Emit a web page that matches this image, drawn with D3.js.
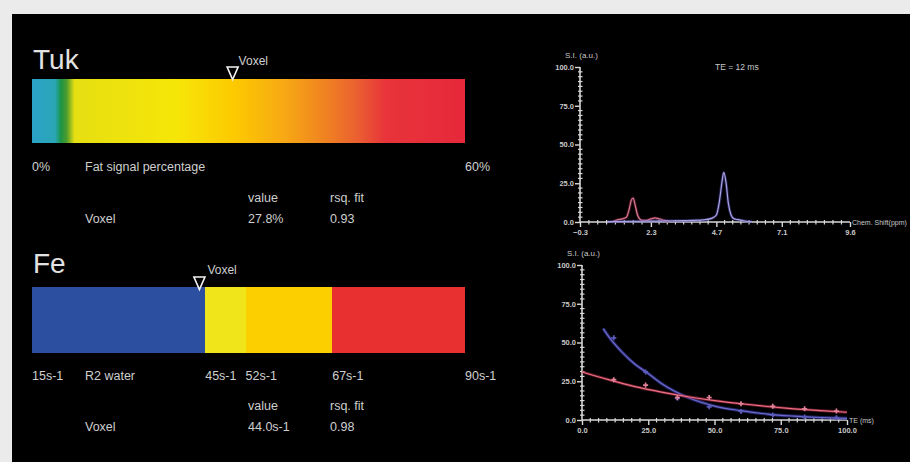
<!DOCTYPE html>
<html><head><meta charset="utf-8">
<script src="https://cdn.jsdelivr.net/npm/d3@7"></script>
<style>
html,body{margin:0;padding:0;background:#ebebeb;}
svg{display:block;}
</style></head>
<body>
<script>
// ---------- DATA ----------
// Fat fraction colour bar (Tuk)
const tukDomain = [0, 60];
const tukStops = [[0,"#2aa2c8"],[3.2,"#2aa6b6"],[4.0,"#1b9446"],[4.8,"#4c9c2c"],[5.9,"#e6df12"],[20,"#f6e608"],[28,"#fcca00"],[35,"#f7a814"],[41,"#ef8022"],[45,"#ea6030"],[49,"#e8343a"],[60,"#e6283a"]];
const tukTickValues = [0, 60];
const tukTickLabels = ["0%", "60%"];
const tukVoxel = 27.8;
const tukRow = {label:"Voxel", value:"27.8%", rsq:"0.93"};

// Iron colour bar (Fe)
const feBreaks = [15, 45, 52, 67, 90];
const feColors = ["#2d4fa0", "#f0e41a", "#fcd000", "#e83030"];
const feTickLabels = ["15s-1", "45s-1", "52s-1", "67s-1", "90s-1"];
const feVoxel = 44.0;
const feRow = {label:"Voxel", value:"44.0s-1", rsq:"0.98"};

// Spectrum (TE = 12 ms)
const specXTicks = [-0.3, 2.3, 4.7, 7.1, 9.6];
const specYTicks = [0, 25, 50, 75, 100];
const fatPpm = [0.9, 1.1, 1.25, 1.4, 1.5, 1.58, 1.65, 1.72, 1.82, 1.95, 2.1, 2.3, 2.45, 2.6, 2.8, 2.95];
const fatSI  = [0.3, 1.5, 2.0, 3.0, 8.0, 14, 15.5, 11, 4.0, 1.2, 1.0, 2.0, 2.6, 2.0, 1.0, 0.3];
const waterPpm = [0.7, 1.9, 2.5, 3.2, 3.8, 4.3, 4.55, 4.7, 4.8, 4.9, 4.97, 5.05, 5.14, 5.24, 5.35, 5.5, 5.65, 5.8, 6.0];
const waterSI  = [0.2, 0.5, 0.6, 0.8, 1.0, 1.5, 2.5, 4.5, 12, 25, 32, 26, 12, 4.5, 2.0, 1.5, 1.0, 0.5, 0.3];

// Decay curves
const decayXTicks = [0, 25, 50, 75, 100];
const decayYTicks = [0, 25, 50, 75, 100];
const echoTE = [12, 24, 36, 48, 60, 72, 84, 96];
const fatEchoSI = [26, 22.5, 14.5, 14.5, 10.5, 8.8, 7.2, 5.8];
const waterEchoSI = [53, 31, 14, 8.5, 5.5, 3.2, 2.0, 1.5];
const fatFitTE = [0, 10, 20, 30, 40, 50, 60, 70, 80, 90, 100];
const fatFitSI = [31, 26, 21.5, 18, 15, 12.5, 10.5, 8.7, 7.2, 6.0, 5.0];
const waterFitTE = [8, 10, 15, 20, 25, 30, 35, 40, 50, 60, 70, 80, 90, 100];
const waterFitSI = [59, 54, 44, 36, 30, 23.5, 18.5, 14.5, 9.0, 6.0, 3.8, 2.5, 1.6, 1.0];

// ---------- DRAW ----------
const W = 910, H = 462;
const svg = d3.select("body").append("svg").attr("width", W).attr("height", H);
svg.append("rect").attr("x",0).attr("y",0).attr("width",W).attr("height",H).attr("fill","#ebebeb");
svg.append("rect").attr("x",12).attr("y",14).attr("width",W-12).attr("height",H-14).attr("fill","#000");

const leftFont = "'Liberation Sans', Arial, sans-serif";
const txtCol = "#cfcfcf";
const defs = svg.append("defs");

function txt(g, x, y, s, size, opts={}) {
  return g.append("text").attr("x", x).attr("y", y).text(s)
    .attr("font-family", opts.family || leftFont).attr("font-size", size)
    .attr("font-weight", opts.weight || "normal")
    .attr("text-anchor", opts.anchor || "start")
    .attr("fill", opts.fill || txtCol);
}

function marker(g, x, yTop) {
  g.append("path")
    .attr("d", `M${x-5.5},${yTop} L${x+5.5},${yTop} L${x},${yTop+12.5} Z`)
    .attr("fill", "none").attr("stroke", "#f4f4f4").attr("stroke-width", 1.6);
}

// --- Tuk panel ---
const tukX = d3.scaleLinear().domain(tukDomain).range([32, 465]);
const gT = svg.append("g");
txt(gT, 33, 69, "Tuk", 28, {fill:"#e2e2e2"});
const grad = defs.append("linearGradient").attr("id","tukGrad")
  .attr("gradientUnits","userSpaceOnUse")
  .attr("x1", tukX(tukDomain[0])).attr("x2", tukX(tukDomain[1])).attr("y1",0).attr("y2",0);
grad.selectAll("stop").data(tukStops).join("stop")
  .attr("offset", d => (tukX(d[0]) - tukX(tukDomain[0])) / (tukX(tukDomain[1]) - tukX(tukDomain[0])))
  .attr("stop-color", d => d[1]);
gT.append("rect").attr("x", tukX(tukDomain[0])).attr("y", 79)
  .attr("width", tukX(tukDomain[1]) - tukX(tukDomain[0])).attr("height", 64)
  .attr("fill", "url(#tukGrad)");
marker(gT, tukX(tukVoxel), 67);
txt(gT, tukX(tukVoxel) + 6, 65, "Voxel", 12);
tukTickValues.forEach((v, i) => txt(gT, tukX(v), 171, tukTickLabels[i], 12.5));
txt(gT, 85, 171, "Fat signal percentage", 12.5);
txt(gT, 248, 202, "value", 12.5);
txt(gT, 330, 202, "rsq. fit", 12.5);
txt(gT, 85, 223, tukRow.label, 12.5);
txt(gT, 248, 223, tukRow.value, 12.5);
txt(gT, 330, 223, tukRow.rsq, 12.5);

// --- Fe panel ---
const feX = d3.scaleLinear().domain([feBreaks[0], feBreaks[feBreaks.length-1]]).range([32, 465]);
const gF = svg.append("g");
txt(gF, 33, 273, "Fe", 28, {fill:"#e2e2e2"});
gF.selectAll("rect.seg").data(feColors).join("rect").attr("class","seg")
  .attr("x", (d,i) => feX(feBreaks[i])).attr("y", 287)
  .attr("width", (d,i) => feX(feBreaks[i+1]) - feX(feBreaks[i]) + (i < feColors.length - 1 ? 0.8 : 0))
  .attr("height", 66)
  .attr("fill", d => d).attr("shape-rendering", "crispEdges");
marker(gF, feX(feVoxel), 277);
txt(gF, feX(feVoxel) + 8, 274, "Voxel", 12);
feBreaks.forEach((v, i) => txt(gF, feX(v), 380, feTickLabels[i], 12.5));
txt(gF, 85, 380, "R2 water", 12.5);
txt(gF, 248, 410, "value", 12.5);
txt(gF, 330, 410, "rsq. fit", 12.5);
txt(gF, 85, 431, feRow.label, 12.5);
txt(gF, 248, 431, feRow.value, 12.5);
txt(gF, 330, 431, feRow.rsq, 12.5);

// --- small chart helper ---
const axCol = "#d8d8d8";
const tickFont = "'Liberation Sans', Arial, sans-serif";
function drawAxes(g, x, y, xTicks, yTicks, xLabel, yLabel) {
  const x0 = x.range()[0], x1 = x.range()[1];
  const y0 = y.range()[0], y1 = y.range()[1];
  const minorX = [], minorY = [];
  for (let i = 0; i < xTicks.length - 1; i++) {
    const a = x(xTicks[i]), b = x(xTicks[i+1]);
    for (let k = 1; k < 8; k++) minorX.push(a + (b - a) * k / 8);
  }
  for (let i = 0; i < yTicks.length - 1; i++) {
    const a = y(yTicks[i]), b = y(yTicks[i+1]);
    for (let k = 1; k < 8; k++) minorY.push(a + (b - a) * k / 8);
  }
  g.selectAll("line.mx").data(minorX).join("line").attr("class","mx")
    .attr("x1", d => d).attr("x2", d => d).attr("y1", y0 - 2).attr("y2", y0 + 2.5)
    .attr("stroke", axCol).attr("stroke-width", 1.2);
  g.selectAll("line.my").data(minorY).join("line").attr("class","my")
    .attr("y1", d => d).attr("y2", d => d).attr("x1", x0 - 2).attr("x2", x0 + 2.5)
    .attr("stroke", axCol).attr("stroke-width", 1.2);
  g.append("line").attr("x1", x0).attr("x2", x1).attr("y1", y0).attr("y2", y0)
    .attr("stroke", axCol).attr("stroke-width", 1.6);
  g.append("line").attr("x1", x0).attr("x2", x0).attr("y1", y0).attr("y2", y1)
    .attr("stroke", axCol).attr("stroke-width", 1.6);
  const yAx = d3.axisLeft(y).tickValues(yTicks).tickFormat(d3.format(".1f")).tickSize(5).tickPadding(1);
  const gy = g.append("g").attr("transform", `translate(${x0},0)`).call(yAx);
  const xAx = d3.axisBottom(x).tickValues(xTicks).tickFormat(d3.format(".1f")).tickSize(5).tickPadding(3);
  const gx = g.append("g").attr("transform", `translate(0,${y0})`).call(xAx);
  [gx, gy].forEach(ax => {
    ax.select(".domain").remove();
    ax.selectAll(".tick line").attr("stroke", axCol).attr("stroke-width", 1.4);
    ax.selectAll(".tick text").attr("fill", "#c8c8c8").attr("font-family", tickFont)
      .attr("font-size", 7.5).attr("font-weight", "bold");
  });
  txt(g, x0 - 15, y1 - 9, yLabel, 8, {family: tickFont, fill:"#c8c8c8"});
  txt(g, x1 + 2, y0 + 3, xLabel, 7, {family: tickFont, fill:"#c8c8c8"});
}

// --- Spectrum chart ---
const sx = d3.scaleLinear().domain([specXTicks[0], specXTicks[specXTicks.length-1]]).range([580, 850]);
const sy = d3.scaleLinear().domain([0, 100]).range([222, 67]);
const gS = svg.append("g");
drawAxes(gS, sx, sy, specXTicks, specYTicks, "Chem. Shift(ppm)", "S.I. (a.u.)");
txt(gS, 715, 70, "TE = 12 ms", 8.5, {family: tickFont, fill:"#c8c8c8"});
const specLine = d3.line().x(d => sx(d[0])).y(d => sy(d[1])).curve(d3.curveMonotoneX);
const waterPts = d3.zip(waterPpm, waterSI);
const fatPts = d3.zip(fatPpm, fatSI);
gS.append("path").attr("d", specLine(fatPts)).attr("fill","none")
  .attr("stroke","#8a2a44").attr("stroke-width",3).attr("stroke-opacity",0.5);
gS.append("path").attr("d", specLine(fatPts)).attr("fill","none")
  .attr("stroke","#d87890").attr("stroke-width",1.2);
gS.append("path").attr("d", specLine(waterPts)).attr("fill","none")
  .attr("stroke","#4a44a0").attr("stroke-width",3).attr("stroke-opacity",0.5);
gS.append("path").attr("d", specLine(waterPts)).attr("fill","none")
  .attr("stroke","#aaa4e4").attr("stroke-width",1.2);

// --- Decay chart ---
const dx = d3.scaleLinear().domain([0, 100]).range([582, 847]);
const dy = d3.scaleLinear().domain([0, 100]).range([420, 265]);
const gD = svg.append("g");
drawAxes(gD, dx, dy, decayXTicks, decayYTicks, "TE (ms)", "S.I. (a.u.)");
const decLine = d3.line().x(d => dx(d[0])).y(d => dy(d[1])).curve(d3.curveMonotoneX);
gD.append("path").attr("d", decLine(d3.zip(waterFitTE, waterFitSI))).attr("fill","none")
  .attr("stroke","#34349a").attr("stroke-width",3.2).attr("stroke-opacity",0.7);
gD.append("path").attr("d", decLine(d3.zip(waterFitTE, waterFitSI))).attr("fill","none")
  .attr("stroke","#6c6cc8").attr("stroke-width",1.2);
gD.append("path").attr("d", decLine(d3.zip(fatFitTE, fatFitSI))).attr("fill","none")
  .attr("stroke","#a82a4a").attr("stroke-width",2.8).attr("stroke-opacity",0.6);
gD.append("path").attr("d", decLine(d3.zip(fatFitTE, fatFitSI))).attr("fill","none")
  .attr("stroke","#e87080").attr("stroke-width",1.2);
const sym = d3.symbol().type(d3.symbolCross).size(14);
gD.selectAll("path.wm").data(d3.zip(echoTE, waterEchoSI)).join("path").attr("class","wm")
  .attr("transform", d => `translate(${dx(d[0])},${dy(d[1])})`).attr("d", sym)
  .attr("fill", "#5a5ab8");
gD.selectAll("path.fm").data(d3.zip(echoTE, fatEchoSI)).join("path").attr("class","fm")
  .attr("transform", d => `translate(${dx(d[0])},${dy(d[1])})`).attr("d", sym)
  .attr("fill", "#e08298");
</script>
</body></html>
